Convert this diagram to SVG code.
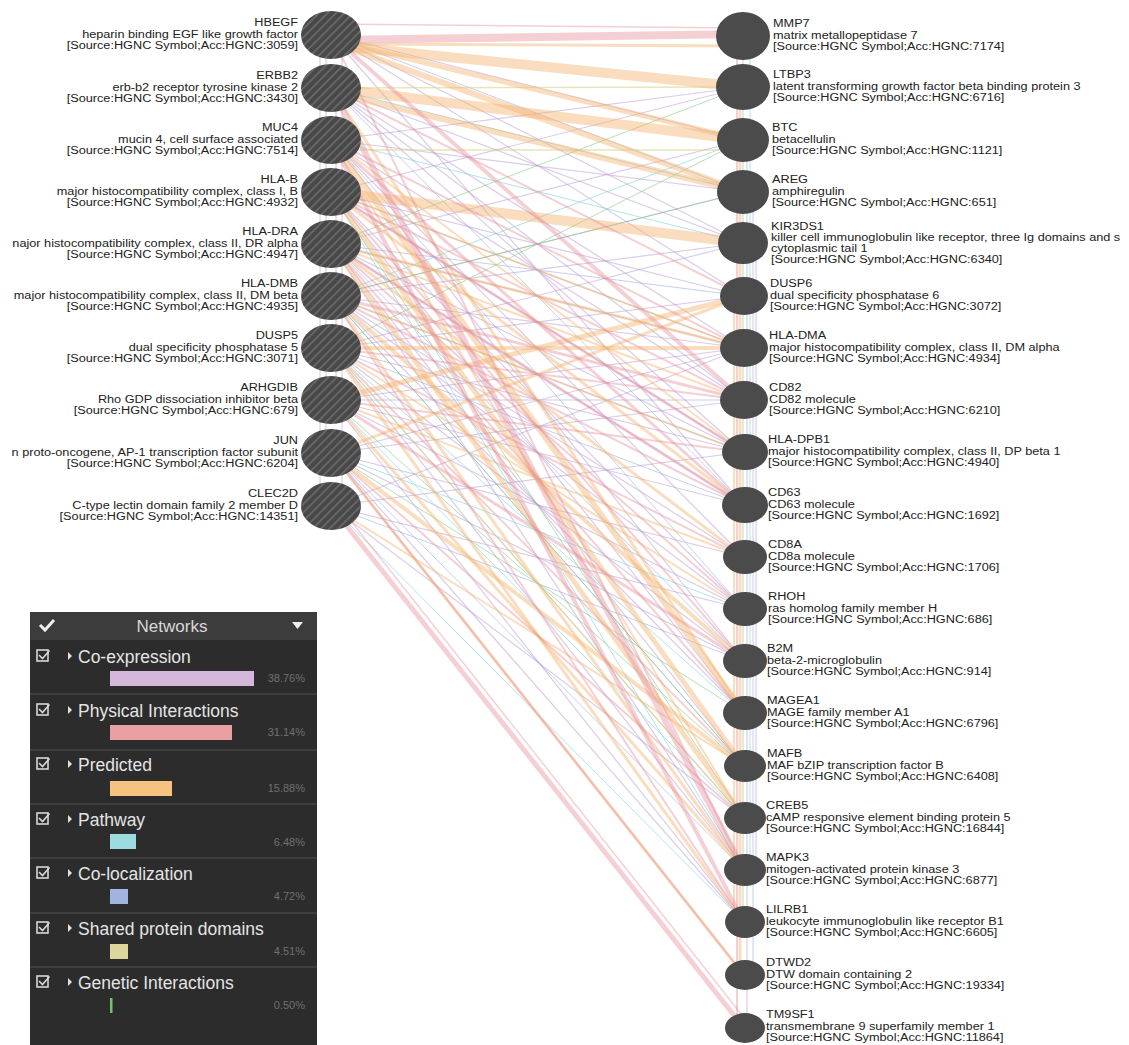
<svg xmlns="http://www.w3.org/2000/svg" width="1129" height="1045" viewBox="0 0 1129 1045">
<style>
.lbl{font-family:"Liberation Sans",Arial,sans-serif;font-size:10px;fill:#222}
.l{text-anchor:end}
.ph{stroke:#e58f9a;stroke-opacity:0.42;fill:none}
.pr{stroke:#f3b46e;stroke-opacity:0.45;fill:none}
.co{stroke:#b79ad0;stroke-opacity:0.5;stroke-width:1.2;fill:none}
.cl{stroke:#8da0e0;stroke-opacity:0.5;stroke-width:1;fill:none}
.pa{stroke:#7fd0dc;stroke-opacity:0.6;stroke-width:1;fill:none}
.ge{stroke:#79c779;stroke-opacity:0.55;stroke-width:1;fill:none}
.sd{stroke:#d7cf84;stroke-opacity:0.55;stroke-width:1.5;fill:none}
.ln{fill:url(#hatch)}
.rn{fill:#4b4b4b}
.lgt{font-family:"Liberation Sans",Arial,sans-serif;font-size:17.5px;fill:#e4e4e4}
.pct{font-family:"Liberation Sans",Arial,sans-serif;font-size:11px;fill:#707070;text-anchor:end}
.sep{stroke:#454545;stroke-width:1.5}
.cb{fill:none;stroke:#d8d8d8;stroke-width:1.6}
.tri{fill:#e0e0e0}
</style>
<defs>
<pattern id="hatch" patternUnits="userSpaceOnUse" width="6" height="6" patternTransform="rotate(-45)">
<rect width="6" height="6" fill="#484848"/>
<rect width="6" height="1.6" fill="#6c6c6c"/>
</pattern>
</defs>
<rect width="1129" height="1045" fill="#ffffff"/>
<g id="connectors">
<line x1="737" y1="36" x2="737" y2="1028" class="ph" stroke-width="2"/>
<line x1="740" y1="87" x2="740" y2="975" class="pr" stroke-width="3"/>
<line x1="743" y1="36" x2="743" y2="922" class="ge"/>
<line x1="747" y1="140" x2="747" y2="1028" class="co"/>
<line x1="750" y1="36" x2="750" y2="870" class="pa" stroke-width="1.5"/>
<line x1="753" y1="192" x2="753" y2="975" class="cl"/>
<line x1="756" y1="243" x2="756" y2="870" class="co"/>
<line x1="734" y1="296" x2="734" y2="922" class="pr" stroke-width="2"/>
<line x1="320" y1="35" x2="320" y2="506" class="co"/>
<line x1="326" y1="35" x2="326" y2="453" class="cl"/>
<line x1="336" y1="88" x2="336" y2="400" class="ph" stroke-width="1.5"/>
<line x1="342" y1="35" x2="342" y2="506" class="co"/>
<line x1="331" y1="35" x2="744" y2="296" class="co"/>
<line x1="331" y1="35" x2="744" y2="505" class="co"/>
<line x1="331" y1="35" x2="744" y2="243" class="co"/>
<line x1="331" y1="35" x2="744" y2="140" class="co"/>
<line x1="331" y1="88" x2="744" y2="243" class="co"/>
<line x1="331" y1="88" x2="744" y2="348" class="co"/>
<line x1="331" y1="88" x2="744" y2="452" class="co"/>
<line x1="331" y1="88" x2="744" y2="400" class="co"/>
<line x1="331" y1="140" x2="744" y2="192" class="co"/>
<line x1="331" y1="140" x2="744" y2="400" class="co"/>
<line x1="331" y1="140" x2="744" y2="557" class="co"/>
<line x1="331" y1="140" x2="744" y2="87" class="co"/>
<line x1="331" y1="140" x2="744" y2="661" class="co"/>
<line x1="331" y1="192" x2="744" y2="87" class="co"/>
<line x1="331" y1="192" x2="744" y2="296" class="co"/>
<line x1="331" y1="192" x2="744" y2="609" class="co"/>
<line x1="331" y1="192" x2="744" y2="713" class="co"/>
<line x1="331" y1="192" x2="744" y2="452" class="co"/>
<line x1="331" y1="244" x2="744" y2="140" class="co"/>
<line x1="331" y1="244" x2="744" y2="348" class="co"/>
<line x1="331" y1="244" x2="744" y2="452" class="co"/>
<line x1="331" y1="244" x2="744" y2="766" class="co"/>
<line x1="331" y1="244" x2="744" y2="870" class="co"/>
<line x1="331" y1="244" x2="744" y2="505" class="co"/>
<line x1="331" y1="296" x2="744" y2="192" class="co"/>
<line x1="331" y1="296" x2="744" y2="348" class="co"/>
<line x1="331" y1="296" x2="744" y2="557" class="co"/>
<line x1="331" y1="296" x2="744" y2="713" class="co"/>
<line x1="331" y1="296" x2="744" y2="243" class="co"/>
<line x1="331" y1="296" x2="744" y2="609" class="co"/>
<line x1="331" y1="348" x2="744" y2="243" class="co"/>
<line x1="331" y1="348" x2="744" y2="452" class="co"/>
<line x1="331" y1="348" x2="744" y2="661" class="co"/>
<line x1="331" y1="348" x2="744" y2="870" class="co"/>
<line x1="331" y1="348" x2="744" y2="296" class="co"/>
<line x1="331" y1="400" x2="744" y2="348" class="co"/>
<line x1="331" y1="400" x2="744" y2="505" class="co"/>
<line x1="331" y1="400" x2="744" y2="609" class="co"/>
<line x1="331" y1="400" x2="744" y2="922" class="co"/>
<line x1="331" y1="453" x2="744" y2="348" class="co"/>
<line x1="331" y1="453" x2="744" y2="400" class="co"/>
<line x1="331" y1="453" x2="744" y2="557" class="co"/>
<line x1="331" y1="453" x2="744" y2="661" class="co"/>
<line x1="331" y1="453" x2="744" y2="922" class="co"/>
<line x1="331" y1="506" x2="744" y2="452" class="co"/>
<line x1="331" y1="506" x2="744" y2="609" class="co"/>
<line x1="331" y1="506" x2="744" y2="818" class="co"/>
<line x1="331" y1="506" x2="744" y2="348" class="co"/>
<line x1="331" y1="35" x2="744" y2="192" class="cl"/>
<line x1="331" y1="88" x2="744" y2="505" class="cl"/>
<line x1="331" y1="192" x2="744" y2="348" class="cl"/>
<line x1="331" y1="244" x2="744" y2="296" class="cl"/>
<line x1="331" y1="244" x2="744" y2="661" class="cl"/>
<line x1="331" y1="296" x2="744" y2="452" class="cl"/>
<line x1="331" y1="296" x2="744" y2="766" class="cl"/>
<line x1="331" y1="348" x2="744" y2="505" class="cl"/>
<line x1="331" y1="348" x2="744" y2="818" class="cl"/>
<line x1="331" y1="400" x2="744" y2="400" class="cl"/>
<line x1="331" y1="453" x2="744" y2="870" class="cl"/>
<line x1="331" y1="506" x2="744" y2="661" class="cl"/>
<line x1="331" y1="140" x2="744" y2="609" class="cl"/>
<line x1="331" y1="88" x2="744" y2="192" class="pa"/>
<line x1="331" y1="296" x2="744" y2="140" class="pa"/>
<line x1="331" y1="348" x2="744" y2="713" class="pa"/>
<line x1="331" y1="506" x2="744" y2="922" class="pa"/>
<line x1="331" y1="400" x2="744" y2="818" class="pa"/>
<line x1="331" y1="192" x2="744" y2="870" class="pa"/>
<line x1="331" y1="140" x2="744" y2="243" class="pa"/>
<line x1="331" y1="453" x2="744" y2="609" class="pa"/>
<line x1="331" y1="244" x2="744" y2="87" class="ge"/>
<line x1="331" y1="296" x2="744" y2="192" class="ge"/>
<line x1="331" y1="348" x2="744" y2="140" class="ge"/>
<line x1="331" y1="453" x2="744" y2="713" class="ge"/>
<line x1="331" y1="400" x2="744" y2="766" class="ge"/>
<line x1="331" y1="192" x2="744" y2="818" class="ge"/>
<line x1="331" y1="296" x2="744" y2="766" class="ge"/>
<line x1="331" y1="150" x2="744" y2="150" class="sd"/>
<line x1="331" y1="348" x2="744" y2="818" class="sd"/>
<line x1="331" y1="88" x2="744" y2="87" class="sd"/>
<line x1="331" y1="44" x2="744" y2="46" class="pr" stroke-width="3"/>
<line x1="331" y1="45" x2="744" y2="87" class="pr" stroke-width="10"/>
<line x1="331" y1="40" x2="744" y2="140" class="pr" stroke-width="5"/>
<line x1="331" y1="42" x2="744" y2="192" class="pr" stroke-width="6"/>
<line x1="331" y1="88" x2="744" y2="140" class="pr" stroke-width="10"/>
<line x1="331" y1="92" x2="744" y2="192" class="pr" stroke-width="6"/>
<line x1="331" y1="192" x2="744" y2="243" class="pr" stroke-width="10"/>
<line x1="331" y1="140" x2="744" y2="713" class="pr" stroke-width="6"/>
<line x1="331" y1="192" x2="744" y2="766" class="pr" stroke-width="5"/>
<line x1="331" y1="244" x2="744" y2="818" class="pr" stroke-width="5"/>
<line x1="331" y1="296" x2="744" y2="661" class="pr" stroke-width="4"/>
<line x1="331" y1="400" x2="744" y2="296" class="pr" stroke-width="5"/>
<line x1="331" y1="348" x2="744" y2="348" class="pr" stroke-width="4"/>
<line x1="331" y1="453" x2="744" y2="296" class="pr" stroke-width="3"/>
<line x1="331" y1="244" x2="744" y2="557" class="pr" stroke-width="3"/>
<line x1="331" y1="296" x2="744" y2="870" class="pr" stroke-width="3"/>
<line x1="331" y1="348" x2="744" y2="922" class="pr" stroke-width="3"/>
<line x1="331" y1="192" x2="744" y2="505" class="pr" stroke-width="3"/>
<line x1="331" y1="453" x2="744" y2="766" class="pr" stroke-width="4"/>
<line x1="331" y1="400" x2="744" y2="870" class="pr" stroke-width="3"/>
<line x1="331" y1="140" x2="744" y2="452" class="pr" stroke-width="2"/>
<line x1="331" y1="244" x2="744" y2="400" class="pr" stroke-width="2"/>
<line x1="331" y1="453" x2="744" y2="975" class="pr" stroke-width="3"/>
<line x1="331" y1="348" x2="744" y2="609" class="pr" stroke-width="2"/>
<line x1="331" y1="192" x2="744" y2="348" class="pr" stroke-width="2"/>
<line x1="331" y1="296" x2="744" y2="452" class="pr" stroke-width="2"/>
<line x1="331" y1="140" x2="744" y2="818" class="pr" stroke-width="2"/>
<line x1="331" y1="506" x2="744" y2="766" class="pr" stroke-width="2"/>
<line x1="331" y1="88" x2="744" y2="713" class="pr" stroke-width="3"/>
<line x1="331" y1="244" x2="744" y2="348" class="pr" stroke-width="3"/>
<line x1="331" y1="400" x2="744" y2="557" class="pr" stroke-width="2"/>
<line x1="331" y1="40" x2="744" y2="34" class="ph" stroke-width="8"/>
<line x1="331" y1="24" x2="744" y2="28" class="ph" stroke-width="1.5" stroke-opacity="0.7"/>
<line x1="331" y1="35" x2="744" y2="400" class="ph" stroke-width="4"/>
<line x1="331" y1="88" x2="744" y2="870" class="ph" stroke-width="6"/>
<line x1="331" y1="506" x2="744" y2="1028" class="ph" stroke-width="5"/>
<line x1="336" y1="502" x2="749" y2="1024" class="ph" stroke-width="1.5" stroke-opacity="0.7"/>
<line x1="331" y1="192" x2="744" y2="452" class="ph" stroke-width="3"/>
<line x1="331" y1="244" x2="744" y2="505" class="ph" stroke-width="3"/>
<line x1="331" y1="296" x2="744" y2="400" class="ph" stroke-width="3"/>
<line x1="331" y1="140" x2="744" y2="922" class="ph" stroke-width="4"/>
<line x1="331" y1="348" x2="744" y2="557" class="ph" stroke-width="2"/>
<line x1="331" y1="400" x2="744" y2="661" class="ph" stroke-width="3"/>
<line x1="331" y1="244" x2="744" y2="609" class="ph" stroke-width="2"/>
<line x1="331" y1="192" x2="744" y2="400" class="ph" stroke-width="2"/>
<line x1="331" y1="296" x2="744" y2="505" class="ph" stroke-width="2"/>
<line x1="331" y1="453" x2="744" y2="818" class="ph" stroke-width="2"/>
<line x1="331" y1="35" x2="744" y2="870" class="ph" stroke-width="2"/>
<line x1="331" y1="244" x2="744" y2="713" class="ph" stroke-width="2"/>
<line x1="331" y1="348" x2="744" y2="766" class="ph" stroke-width="2"/>
<line x1="331" y1="140" x2="744" y2="348" class="ph" stroke-width="2"/>
<line x1="331" y1="400" x2="744" y2="452" class="ph" stroke-width="2"/>
<line x1="331" y1="296" x2="744" y2="922" class="ph" stroke-width="2"/>
<line x1="331" y1="192" x2="744" y2="661" class="ph" stroke-width="2"/>
<line x1="331" y1="88" x2="744" y2="296" class="ph" stroke-width="2"/>
<line x1="331" y1="453" x2="744" y2="975" class="ph" stroke-width="2"/>
<line x1="331" y1="140" x2="744" y2="505" class="ph" stroke-width="3"/>
<line x1="331" y1="348" x2="744" y2="400" class="ph" stroke-width="2"/>
</g>
<g id="n-HBEGF"><ellipse cx="331" cy="35" rx="30" ry="24" class="ln"/><text class="lbl l" transform="translate(298 35) scale(1.27 1)"><tspan x="0" y="-9">HBEGF</tspan><tspan x="0" y="2.5">heparin binding EGF like growth factor</tspan><tspan x="0" y="14">[Source:HGNC Symbol;Acc:HGNC:3059]</tspan></text></g>
<g id="n-ERBB2"><ellipse cx="331" cy="88" rx="30" ry="24" class="ln"/><text class="lbl l" transform="translate(298 88) scale(1.27 1)"><tspan x="0" y="-9">ERBB2</tspan><tspan x="0" y="2.5">erb-b2 receptor tyrosine kinase 2</tspan><tspan x="0" y="14">[Source:HGNC Symbol;Acc:HGNC:3430]</tspan></text></g>
<g id="n-MUC4"><ellipse cx="331" cy="140" rx="30" ry="24" class="ln"/><text class="lbl l" transform="translate(298 140) scale(1.27 1)"><tspan x="0" y="-9">MUC4</tspan><tspan x="0" y="2.5">mucin 4, cell surface associated</tspan><tspan x="0" y="14">[Source:HGNC Symbol;Acc:HGNC:7514]</tspan></text></g>
<g id="n-HLA-B"><ellipse cx="331" cy="192" rx="30" ry="24" class="ln"/><text class="lbl l" transform="translate(298 192) scale(1.27 1)"><tspan x="0" y="-9">HLA-B</tspan><tspan x="0" y="2.5">major histocompatibility complex, class I, B</tspan><tspan x="0" y="14">[Source:HGNC Symbol;Acc:HGNC:4932]</tspan></text></g>
<g id="n-HLA-DRA"><ellipse cx="331" cy="244" rx="30" ry="24" class="ln"/><text class="lbl l" transform="translate(298 244) scale(1.27 1)"><tspan x="0" y="-9">HLA-DRA</tspan><tspan x="0" y="2.5">najor histocompatibility complex, class II, DR alpha</tspan><tspan x="0" y="14">[Source:HGNC Symbol;Acc:HGNC:4947]</tspan></text></g>
<g id="n-HLA-DMB"><ellipse cx="331" cy="296" rx="30" ry="24" class="ln"/><text class="lbl l" transform="translate(298 296) scale(1.27 1)"><tspan x="0" y="-9">HLA-DMB</tspan><tspan x="0" y="2.5">major histocompatibility complex, class II, DM beta</tspan><tspan x="0" y="14">[Source:HGNC Symbol;Acc:HGNC:4935]</tspan></text></g>
<g id="n-DUSP5"><ellipse cx="331" cy="348" rx="30" ry="24" class="ln"/><text class="lbl l" transform="translate(298 348) scale(1.27 1)"><tspan x="0" y="-9">DUSP5</tspan><tspan x="0" y="2.5">dual specificity phosphatase 5</tspan><tspan x="0" y="14">[Source:HGNC Symbol;Acc:HGNC:3071]</tspan></text></g>
<g id="n-ARHGDIB"><ellipse cx="331" cy="400" rx="30" ry="24" class="ln"/><text class="lbl l" transform="translate(298 400) scale(1.27 1)"><tspan x="0" y="-9">ARHGDIB</tspan><tspan x="0" y="2.5">Rho GDP dissociation inhibitor beta</tspan><tspan x="0" y="14">[Source:HGNC Symbol;Acc:HGNC:679]</tspan></text></g>
<g id="n-JUN"><ellipse cx="331" cy="453" rx="30" ry="24" class="ln"/><text class="lbl l" transform="translate(298 453) scale(1.27 1)"><tspan x="0" y="-9">JUN</tspan><tspan x="0" y="2.5">n proto-oncogene, AP-1 transcription factor subunit</tspan><tspan x="0" y="14">[Source:HGNC Symbol;Acc:HGNC:6204]</tspan></text></g>
<g id="n-CLEC2D"><ellipse cx="331" cy="506" rx="30" ry="24" class="ln"/><text class="lbl l" transform="translate(298 506) scale(1.27 1)"><tspan x="0" y="-9">CLEC2D</tspan><tspan x="0" y="2.5">C-type lectin domain family 2 member D</tspan><tspan x="0" y="14">[Source:HGNC Symbol;Acc:HGNC:14351]</tspan></text></g>

<g id="n-MMP7"><ellipse cx="743" cy="36" rx="27" ry="24" class="rn"/><text class="lbl" transform="translate(773 36) scale(1.27 1)"><tspan x="0" y="-9">MMP7</tspan><tspan x="0" y="2.5">matrix metallopeptidase 7</tspan><tspan x="0" y="14">[Source:HGNC Symbol;Acc:HGNC:7174]</tspan></text></g>
<g id="n-LTBP3"><ellipse cx="743" cy="87" rx="27" ry="23" class="rn"/><text class="lbl" transform="translate(773 87) scale(1.27 1)"><tspan x="0" y="-9">LTBP3</tspan><tspan x="0" y="2.5">latent transforming growth factor beta binding protein 3</tspan><tspan x="0" y="14">[Source:HGNC Symbol;Acc:HGNC:6716]</tspan></text></g>
<g id="n-BTC"><ellipse cx="743" cy="140" rx="26" ry="22" class="rn"/><text class="lbl" transform="translate(772 140) scale(1.27 1)"><tspan x="0" y="-9">BTC</tspan><tspan x="0" y="2.5">betacellulin</tspan><tspan x="0" y="14">[Source:HGNC Symbol;Acc:HGNC:1121]</tspan></text></g>
<g id="n-AREG"><ellipse cx="743" cy="192" rx="26" ry="22" class="rn"/><text class="lbl" transform="translate(772 192) scale(1.27 1)"><tspan x="0" y="-9">AREG</tspan><tspan x="0" y="2.5">amphiregulin</tspan><tspan x="0" y="14">[Source:HGNC Symbol;Acc:HGNC:651]</tspan></text></g>
<g id="n-KIR3DS1"><ellipse cx="743" cy="243" rx="25" ry="21" class="rn"/><text class="lbl" transform="translate(771 243) scale(1.27 1)"><tspan x="0" y="-13">KIR3DS1</tspan><tspan x="0" y="-2">killer cell immunoglobulin like receptor, three Ig domains and s</tspan><tspan x="0" y="9">cytoplasmic tail 1</tspan><tspan x="0" y="20">[Source:HGNC Symbol;Acc:HGNC:6340]</tspan></text></g>
<g id="n-DUSP6"><ellipse cx="744" cy="296" rx="24" ry="19" class="rn"/><text class="lbl" transform="translate(770 296) scale(1.27 1)"><tspan x="0" y="-9">DUSP6</tspan><tspan x="0" y="2.5">dual specificity phosphatase 6</tspan><tspan x="0" y="14">[Source:HGNC Symbol;Acc:HGNC:3072]</tspan></text></g>
<g id="n-HLA-DMA"><ellipse cx="744" cy="348" rx="24" ry="19" class="rn"/><text class="lbl" transform="translate(769 348) scale(1.27 1)"><tspan x="0" y="-9">HLA-DMA</tspan><tspan x="0" y="2.5">major histocompatibility complex, class II, DM alpha</tspan><tspan x="0" y="14">[Source:HGNC Symbol;Acc:HGNC:4934]</tspan></text></g>
<g id="n-CD82"><ellipse cx="744" cy="400" rx="24" ry="19" class="rn"/><text class="lbl" transform="translate(769 400) scale(1.27 1)"><tspan x="0" y="-9">CD82</tspan><tspan x="0" y="2.5">CD82 molecule</tspan><tspan x="0" y="14">[Source:HGNC Symbol;Acc:HGNC:6210]</tspan></text></g>
<g id="n-HLA-DPB1"><ellipse cx="745" cy="452" rx="23" ry="18" class="rn"/><text class="lbl" transform="translate(768 452) scale(1.27 1)"><tspan x="0" y="-9">HLA-DPB1</tspan><tspan x="0" y="2.5">major histocompatibility complex, class II, DP beta 1</tspan><tspan x="0" y="14">[Source:HGNC Symbol;Acc:HGNC:4940]</tspan></text></g>
<g id="n-CD63"><ellipse cx="745" cy="505" rx="23" ry="18" class="rn"/><text class="lbl" transform="translate(768 505) scale(1.27 1)"><tspan x="0" y="-9">CD63</tspan><tspan x="0" y="2.5">CD63 molecule</tspan><tspan x="0" y="14">[Source:HGNC Symbol;Acc:HGNC:1692]</tspan></text></g>
<g id="n-CD8A"><ellipse cx="745" cy="557" rx="22" ry="17" class="rn"/><text class="lbl" transform="translate(768 557) scale(1.27 1)"><tspan x="0" y="-9">CD8A</tspan><tspan x="0" y="2.5">CD8a molecule</tspan><tspan x="0" y="14">[Source:HGNC Symbol;Acc:HGNC:1706]</tspan></text></g>
<g id="n-RHOH"><ellipse cx="745" cy="609" rx="22" ry="17" class="rn"/><text class="lbl" transform="translate(768 609) scale(1.27 1)"><tspan x="0" y="-9">RHOH</tspan><tspan x="0" y="2.5">ras homolog family member H</tspan><tspan x="0" y="14">[Source:HGNC Symbol;Acc:HGNC:686]</tspan></text></g>
<g id="n-B2M"><ellipse cx="745" cy="661" rx="22" ry="17" class="rn"/><text class="lbl" transform="translate(767 661) scale(1.27 1)"><tspan x="0" y="-9">B2M</tspan><tspan x="0" y="2.5">beta-2-microglobulin</tspan><tspan x="0" y="14">[Source:HGNC Symbol;Acc:HGNC:914]</tspan></text></g>
<g id="n-MAGEA1"><ellipse cx="745" cy="713" rx="22" ry="17" class="rn"/><text class="lbl" transform="translate(767 713) scale(1.27 1)"><tspan x="0" y="-9">MAGEA1</tspan><tspan x="0" y="2.5">MAGE family member A1</tspan><tspan x="0" y="14">[Source:HGNC Symbol;Acc:HGNC:6796]</tspan></text></g>
<g id="n-MAFB"><ellipse cx="745" cy="766" rx="21" ry="16" class="rn"/><text class="lbl" transform="translate(767 766) scale(1.27 1)"><tspan x="0" y="-9">MAFB</tspan><tspan x="0" y="2.5">MAF bZIP transcription factor B</tspan><tspan x="0" y="14">[Source:HGNC Symbol;Acc:HGNC:6408]</tspan></text></g>
<g id="n-CREB5"><ellipse cx="745" cy="818" rx="21" ry="16" class="rn"/><text class="lbl" transform="translate(766 818) scale(1.27 1)"><tspan x="0" y="-9">CREB5</tspan><tspan x="0" y="2.5">cAMP responsive element binding protein 5</tspan><tspan x="0" y="14">[Source:HGNC Symbol;Acc:HGNC:16844]</tspan></text></g>
<g id="n-MAPK3"><ellipse cx="745" cy="870" rx="21" ry="16" class="rn"/><text class="lbl" transform="translate(766 870) scale(1.27 1)"><tspan x="0" y="-9">MAPK3</tspan><tspan x="0" y="2.5">mitogen-activated protein kinase 3</tspan><tspan x="0" y="14">[Source:HGNC Symbol;Acc:HGNC:6877]</tspan></text></g>
<g id="n-LILRB1"><ellipse cx="745" cy="922" rx="20" ry="16" class="rn"/><text class="lbl" transform="translate(766 922) scale(1.27 1)"><tspan x="0" y="-9">LILRB1</tspan><tspan x="0" y="2.5">leukocyte immunoglobulin like receptor B1</tspan><tspan x="0" y="14">[Source:HGNC Symbol;Acc:HGNC:6605]</tspan></text></g>
<g id="n-DTWD2"><ellipse cx="745" cy="975" rx="20" ry="15" class="rn"/><text class="lbl" transform="translate(766 975) scale(1.27 1)"><tspan x="0" y="-9">DTWD2</tspan><tspan x="0" y="2.5">DTW domain containing 2</tspan><tspan x="0" y="14">[Source:HGNC Symbol;Acc:HGNC:19334]</tspan></text></g>
<g id="n-TM9SF1"><ellipse cx="745" cy="1028" rx="20" ry="15" class="rn"/><text class="lbl" transform="translate(766 1027) scale(1.27 1)"><tspan x="0" y="-9">TM9SF1</tspan><tspan x="0" y="2.5">transmembrane 9 superfamily member 1</tspan><tspan x="0" y="14">[Source:HGNC Symbol;Acc:HGNC:11864]</tspan></text></g>

<g id="legend">
<rect x="30" y="612" width="287" height="440" fill="#2c2c2c"/>
<rect x="30" y="612" width="287" height="28" fill="#3c3c3c"/>
<path d="M40 625 l5 5 l9 -10" fill="none" stroke="#eeeeee" stroke-width="3"/>
<text x="172" y="632" text-anchor="middle" font-family="Liberation Sans, Arial, sans-serif" font-size="17" fill="#d8d8d8">Networks</text>
<polygon points="292,622 303,622 297.5,629" fill="#eeeeee"/>
<line x1="30" y1="694" x2="317" y2="694" class="sep"/>
<line x1="30" y1="750" x2="317" y2="750" class="sep"/>
<line x1="30" y1="804" x2="317" y2="804" class="sep"/>
<line x1="30" y1="858" x2="317" y2="858" class="sep"/>
<line x1="30" y1="913" x2="317" y2="913" class="sep"/>
<line x1="30" y1="967" x2="317" y2="967" class="sep"/>
<g id="lg-coexp">
<rect x="37" y="650" width="11" height="11" class="cb"/><path d="M39 655 l3.5 3.5 l7 -8" class="cb"/>
<polygon points="68,652 72,656 68,660" class="tri"/>
<text x="78" y="663" class="lgt">Co-expression</text>
<rect x="110" y="671" width="144" height="15" fill="#d4b7da"/>
<text x="305" y="682" class="pct">38.76%</text>
</g>
<g id="lg-phys">
<rect x="37" y="704" width="11" height="11" class="cb"/><path d="M39 709 l3.5 3.5 l7 -8" class="cb"/>
<polygon points="68,706 72,710 68,714" class="tri"/>
<text x="78" y="717" class="lgt">Physical Interactions</text>
<rect x="110" y="725" width="122" height="15" fill="#e9a0a2"/>
<text x="305" y="736" class="pct">31.14%</text>
</g>
<g id="lg-pred">
<rect x="37" y="758" width="11" height="11" class="cb"/><path d="M39 763 l3.5 3.5 l7 -8" class="cb"/>
<polygon points="68,760 72,764 68,768" class="tri"/>
<text x="78" y="771" class="lgt">Predicted</text>
<rect x="110" y="781" width="62" height="15" fill="#f6c280"/>
<text x="305" y="792" class="pct">15.88%</text>
</g>
<g id="lg-path">
<rect x="37" y="813" width="11" height="11" class="cb"/><path d="M39 818 l3.5 3.5 l7 -8" class="cb"/>
<polygon points="68,815 72,819 68,823" class="tri"/>
<text x="78" y="826" class="lgt">Pathway</text>
<rect x="110" y="834" width="26" height="15" fill="#9edbe0"/>
<text x="305" y="846" class="pct">6.48%</text>
</g>
<g id="lg-coloc">
<rect x="37" y="867" width="11" height="11" class="cb"/><path d="M39 872 l3.5 3.5 l7 -8" class="cb"/>
<polygon points="68,869 72,873 68,877" class="tri"/>
<text x="78" y="880" class="lgt">Co-localization</text>
<rect x="110" y="889" width="18" height="15" fill="#a2b3e0"/>
<text x="305" y="900" class="pct">4.72%</text>
</g>
<g id="lg-shared">
<rect x="37" y="922" width="11" height="11" class="cb"/><path d="M39 927 l3.5 3.5 l7 -8" class="cb"/>
<polygon points="68,924 72,928 68,932" class="tri"/>
<text x="78" y="935" class="lgt">Shared protein domains</text>
<rect x="110" y="944" width="18" height="15" fill="#dcd69c"/>
<text x="305" y="955" class="pct">4.51%</text>
</g>
<g id="lg-genetic">
<rect x="37" y="976" width="11" height="11" class="cb"/><path d="M39 981 l3.5 3.5 l7 -8" class="cb"/>
<polygon points="68,978 72,982 68,986" class="tri"/>
<text x="78" y="989" class="lgt">Genetic Interactions</text>
<rect x="110" y="998" width="2.5" height="15" fill="#6cc46c"/>
<text x="305" y="1009" class="pct">0.50%</text>
</g>
</g>
</svg>
